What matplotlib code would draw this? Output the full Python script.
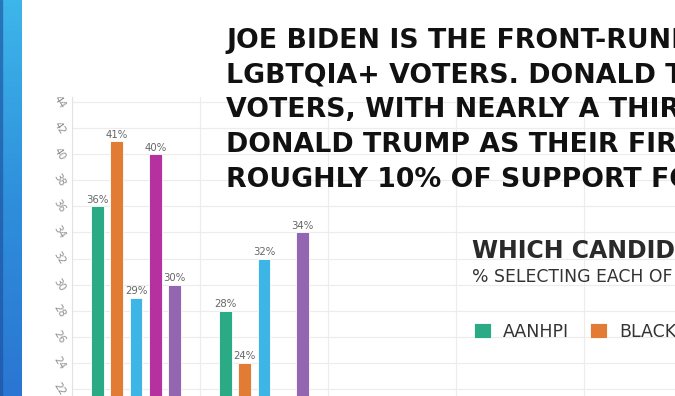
import numpy as np
import matplotlib
matplotlib.use("Agg")
import matplotlib.pyplot as plt
from matplotlib.colors import LinearSegmentedColormap

# donnees
candidates = ["Joe Biden", "Donald Trump"]
groups = ["AANHPI", "BLACK", "HISPANIC/LATINX", "MULTIRACIAL", "WHITE"]
aanhpi = [36, 28]
black = [41, 24]
hispanic = [29, 32]
multiracial = [40, 18]
white = [30, 34]
series = [aanhpi, black, hispanic, multiracial, white]
colors = ["#2aaa85", "#e27c35", "#3db5e6", "#b5319f", "#9465b1"]
yticks = list(range(22, 45, 2))

title_lines = [
    "JOE BIDEN IS THE FRONT-RUNNER",
    "LGBTQIA+ VOTERS. DONALD TRUMP",
    "VOTERS, WITH NEARLY A THIRD",
    "DONALD TRUMP AS THEIR FIRST",
    "ROUGHLY 10% OF SUPPORT FOR",
]
subtitle = "WHICH CANDIDATE"
subtext = "% SELECTING EACH OF THE FOLLOWING"

W, H = 675, 396
fig = plt.figure(figsize=(W / 100, H / 100), dpi=100)
fig.patch.set_facecolor("white")

# bande bleue a gauche
band = fig.add_axes([0, 0, 22 / W, 1])
grad = np.linspace(0, 1, 256).reshape(-1, 1)
cmap = LinearSegmentedColormap.from_list("band", ["#3db6ea", "#2f8fdc", "#2a76d2"])
band.imshow(grad, aspect="auto", cmap=cmap, extent=[0, 1, 0, 1], origin="upper")
band.axvspan(0, 0.08, color="#1d4f9c", alpha=0.5)
band.set_axis_off()

# axe principal
y_lo, y_hi = 21.46, 44.4
top_px = 102 - (y_hi - 44) * 13.05
ax = fig.add_axes([72 / W, 0, 640 / W, 1 - top_px / H])
x = np.arange(len(candidates))
step = 0.15
width = 0.10
for i, (vals, c, name) in enumerate(zip(series, colors, groups)):
    bars = ax.bar(x + (i - 2) * step, vals, width, color=c, edgecolor="white",
                  linewidth=0.6, label=name, zorder=3)
    ax.bar_label(bars, fmt="%d%%", padding=1, fontsize=7.3, color="#666666")

ax.set_xlim(-0.5, 4.5)
ax.set_ylim(y_lo, y_hi)
ax.set_yticks(yticks)
ax.set_xticks(np.arange(-0.5, 4.6, 1.0))
ax.set_xticklabels([])
ax.tick_params(axis="both", length=0)
ax.tick_params(axis="y", labelsize=7.5, labelcolor="#8f8f8f", pad=9)
for lab in ax.get_yticklabels():
    lab.set_rotation(-58)
    lab.set_ha("center")
    lab.set_va("center")
ax.grid(True, color="#ececec", linewidth=0.8, zorder=0)
for s in ["top", "right", "bottom"]:
    ax.spines[s].set_visible(False)
ax.spines["left"].set_color("#e2e2e2")
ax.set_facecolor("none")

# titre
for k, line in enumerate(title_lines):
    fig.text(226 / W, 1 - (48 + k * 34.7) / H, line, fontsize=19.3, fontweight="bold",
             family="DejaVu Sans", color="#111111", va="baseline", ha="left")

fig.text(472 / W, 1 - 258 / H, subtitle, fontsize=17, fontweight="bold",
         family="DejaVu Sans", color="#2a2a2a", va="baseline", ha="left")
fig.text(472 / W, 1 - 282 / H, subtext, fontsize=12.4, family="DejaVu Sans",
         color="#333333", va="baseline", ha="left")

handles, labels = ax.get_legend_handles_labels()
leg = fig.legend(handles, labels, loc="upper left", bbox_to_anchor=(458 / W, 1 - 307 / H),
                 ncol=5, frameon=False, handlelength=1.0, handleheight=1.0,
                 handletextpad=0.7, columnspacing=1.2,
                 prop={"family": "DejaVu Sans", "size": 12.5})
for t in leg.get_texts():
    t.set_color("#333333")

fig.savefig("out.png", dpi=100)
